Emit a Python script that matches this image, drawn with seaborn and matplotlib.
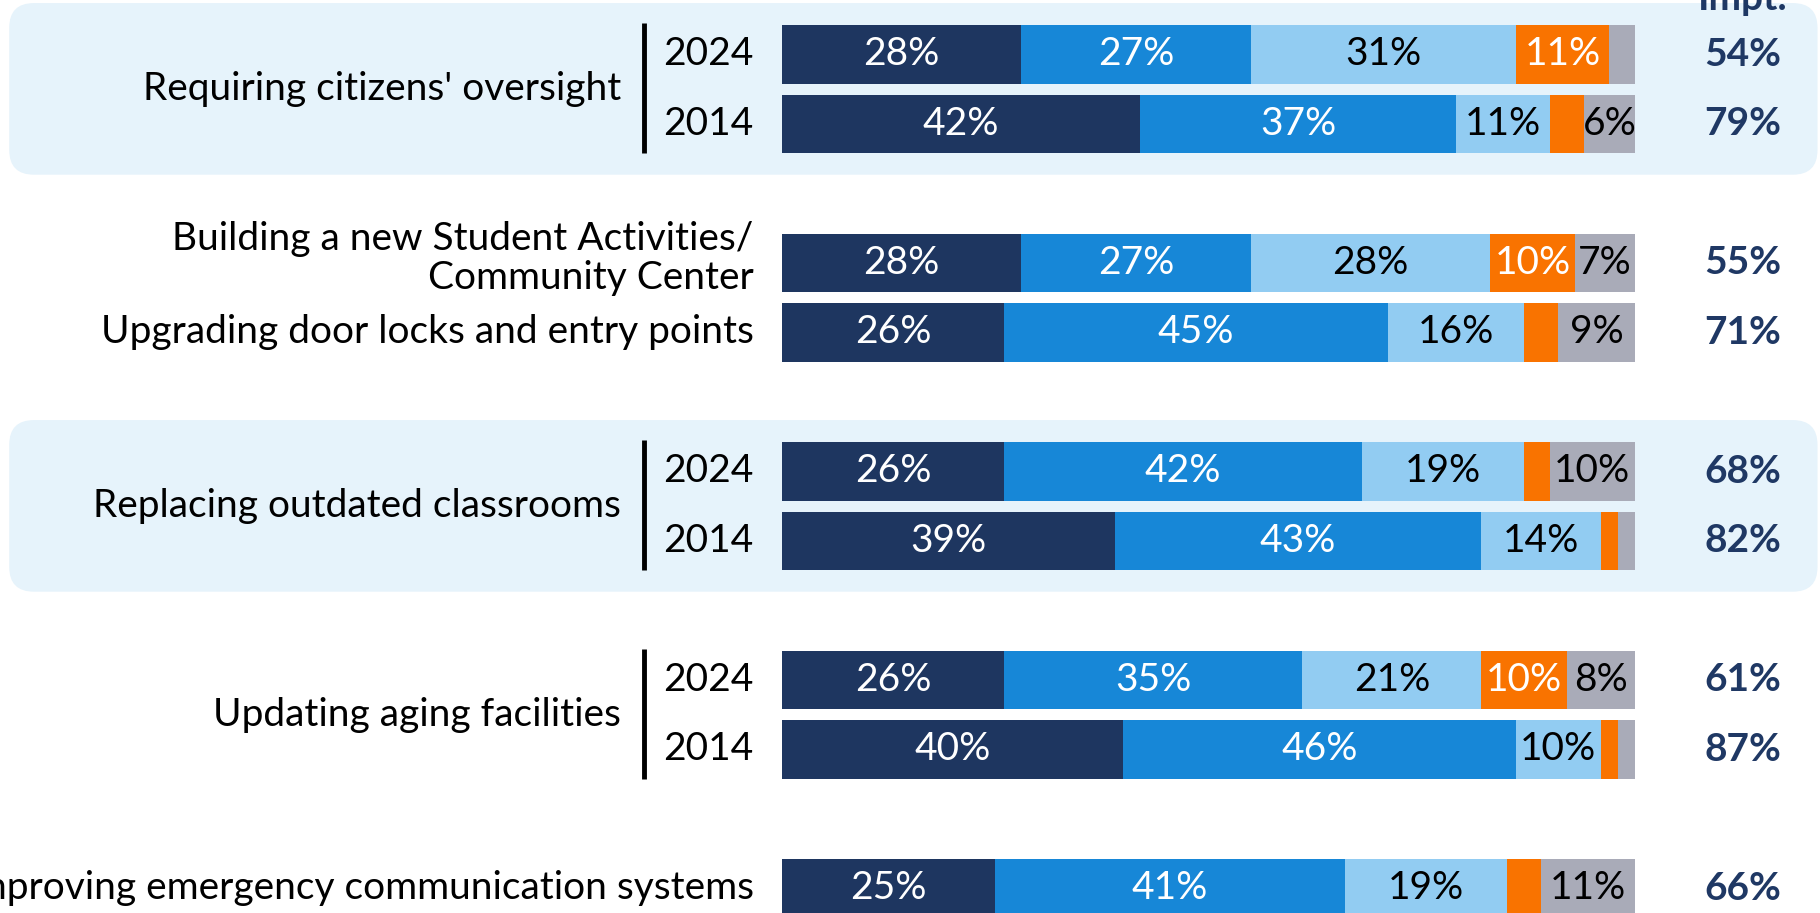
import numpy as np
import pandas as pd
import matplotlib
matplotlib.use("Agg")
import matplotlib.pyplot as plt
from matplotlib.patches import FancyBboxPatch
import seaborn as sns

# Survey items: (label, sub-rows)
groups = [
    ("Requiring citizens' oversight", ["2024", "2014"]),
    ("Building a new Student Activities/\nCommunity Center", [""]),
    ("Upgrading door locks and entry points", [""]),
    ("Replacing outdated classrooms", ["2024", "2014"]),
    ("Updating aging facilities", ["2024", "2014"]),
    ("Improving emergency communication systems", [""]),
]
# Which items get a shaded panel
shaded = [True, False, False, True, False, False]

# Response shares per bar, top to bottom
very_impt = [28, 42, 28, 26, 26, 39, 26, 40, 25]
smwt_impt = [27, 37, 27, 45, 42, 43, 35, 46, 41]
not_too = [31, 11, 28, 16, 19, 14, 21, 10, 19]
not_at_all = [11, 4, 10, 4, 3, 2, 10, 2, 4]
unsure = [3, 6, 7, 9, 10, 2, 8, 2, 11]
total_impt = [54, 79, 55, 71, 68, 82, 61, 87, 66]

series = [very_impt, smwt_impt, not_too, not_at_all, unsure]
colors = ["#1E3660", "#1787D7", "#92CCF2", "#F97300", "#A9ABB8"]
text_colors = ["white", "white", "black", "white", "black"]

FONT = "Lato"
FS = 28

# Row slots: sub-rows adjacent, an empty slot between blocks;
# the two single-row items (index 1 and 2) share one block
block_of = [0, 1, 1, 2, 3, 4]
positions, group_slots = [], []
slot = 0
prev_block = None
for gidx, (label, subs) in enumerate(groups):
    if prev_block is not None and block_of[gidx] != prev_block:
        slot += 1
    prev_block = block_of[gidx]
    group_slots.append(slot)
    for _ in subs:
        positions.append(slot)
        slot += 1

fig = plt.figure(figsize=(18.2, 9.13), dpi=100)
ax = fig.add_axes([0, 0, 1, 1])
ax.set_axis_off()

# stacked bars: draw cumulative totals back to front
cum = np.cumsum(np.array(series), axis=0)
for k in range(len(series) - 1, -1, -1):
    df = pd.DataFrame({"value": cum[k], "pos": positions})
    sns.barplot(data=df, x="value", y="pos", orient="h", native_scale=True,
                color=colors[k], saturation=1, width=0.84, errorbar=None,
                edgecolor="none", linewidth=0, ax=ax, zorder=3)

# segment value labels
for k, vals in enumerate(series):
    for i, v in enumerate(vals):
        if v >= 5:
            left = cum[k][i] - v
            ax.text(left + v / 2, positions[i], f"{v}%", ha="center", va="center",
                    color=text_colors[k], fontsize=FS, family=FONT, zorder=4)

# total importance column
for i, v in enumerate(total_impt):
    ax.text(112.6, positions[i], f"{v}%", ha="center", va="center",
            color="#1F3864", fontsize=FS, family=FONT, fontweight="bold", zorder=4)
ax.text(112.6, -0.64, "Impt.", ha="center", va="baseline", color="#1F3864",
        fontsize=FS, family=FONT, fontweight="bold", zorder=4)

# item labels, year labels, separators, shaded panels
for gidx, (label, subs) in enumerate(groups):
    s0 = group_slots[gidx]
    if len(subs) == 2:
        ax.text(-18.9, s0 + 0.5, label, ha="right", va="center", fontsize=FS,
                family=FONT, color="black", zorder=4)
        for j, yr in enumerate(subs):
            ax.text(-3.3, s0 + j, yr, ha="right", va="center", fontsize=FS,
                    family=FONT, color="black", zorder=4)
        ax.plot([-16.2, -16.2], [s0 - 0.45, s0 + 1.42], color="black", lw=3.5,
                solid_capstyle="butt", zorder=4)
    else:
        ax.text(-3.3, s0 - (0.06 if "\n" in label else 0), label, ha="right",
                va="center", fontsize=FS, family=FONT, color="black",
                linespacing=1.1, zorder=4)
    if shaded[gidx]:
        box = FancyBboxPatch((-90.6, s0 - 0.74), 212.0, 2.47,
                             boxstyle="round,pad=0,rounding_size=2.9",
                             mutation_aspect=8.53 / 69.5,
                             facecolor="#E6F3FB", edgecolor="none", zorder=1)
        ax.add_patch(box)

ax.set_xlim(-91.68, 121.69)
ax.set_ylim(12.353, -0.784)

fig.savefig("out.png", dpi=100)
